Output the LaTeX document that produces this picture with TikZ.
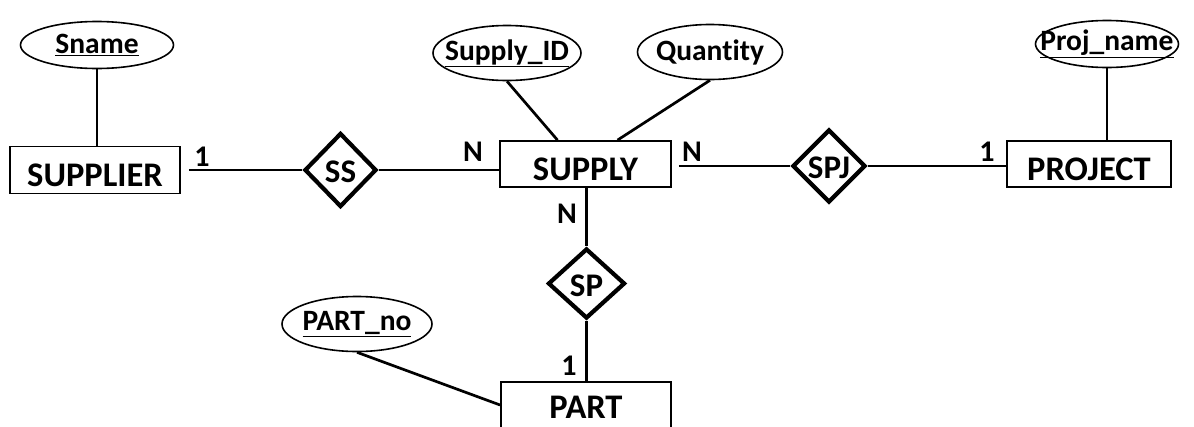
\documentclass[tikz,border=0pt]{standalone}
\usepackage{fontspec}
\setmainfont{Carlito}[Ligatures=NoCommon]
\usetikzlibrary{shapes.geometric}

% key attribute: underlined name
\newcommand{\keyattr}[1]{\underline{#1}}

\tikzset{
  entity/.style={draw, rectangle, line width=1.8pt, minimum width=#1,
                 minimum height=46pt, inner sep=0pt},
  enttext/.style={inner sep=0pt, yshift=-5pt,
                  font=\fontsize{34.5}{38}\selectfont\bfseries},
  relation/.style={draw, diamond, line width=4.2pt, inner sep=0pt},
  reltext/.style={inner sep=0pt, yshift=-2pt,
                  font=\fontsize{33}{36}\selectfont\bfseries},
  attribute/.style={draw, ellipse, line width=1.6pt, inner sep=0pt},
  attrtext/.style={inner sep=0pt,
                   font=\fontsize{29.5}{32}\selectfont\bfseries},
  card/.style={inner sep=0pt, font=\fontsize{30}{33}\selectfont\bfseries},
  conn/.style={line width=2.7pt}
}

\begin{document}
\begin{tikzpicture}[x=1pt, y=-1pt]
  \useasboundingbox (0,0) rectangle (1194,426);
  \fill[white] (0,0) rectangle (1194,426);
  \clip (0,0) rectangle (1194,426);

  % entities
  \node[entity=170pt, minimum height=47pt,
        label={[enttext]center:SUPPLIER}] (supplier) at (95,170) {};
  \node[entity=171pt, label={[enttext]center:SUPPLY}] (supply) at (585.5,164) {};
  \node[entity=164pt, label={[enttext]center:PROJECT}] (project) at (1089,164) {};
  \node[entity=170pt, label={[enttext, yshift=2.5pt]center:PART}] (part) at (586,405) {};

  % relationships
  \node[relation, minimum width=72pt, minimum height=74pt,
        label={[reltext]center:SS}] (ss) at (340.5,170) {};
  \node[relation, minimum width=73pt, minimum height=73pt,
        label={[reltext]center:SPJ}] (spj) at (829,166) {};
  \node[relation, minimum width=77pt, minimum height=70pt,
        label={[reltext]center:SP}] (sp) at (586.5,283.5) {};

  % attributes
  \node[attribute, minimum width=153pt, minimum height=47pt,
        label={[attrtext]center:\keyattr{Sname}}] (sname) at (97,45) {};
  \node[attribute, minimum width=148pt, minimum height=55pt,
        label={[attrtext]center:\keyattr{Supply\_ID}}] (supplyid) at (507,53) {};
  \node[attribute, minimum width=145pt, minimum height=55pt,
        label={[attrtext]center:Quantity}] (quantity) at (710,52) {};
  \node[attribute, minimum width=143pt, minimum height=47pt,
        label={[attrtext]center:\keyattr{Proj\_name}}] (projname) at (1107,44) {};
  \node[attribute, minimum width=150pt, minimum height=55pt,
        label={[attrtext]center:\keyattr{PART\_no}}] (partno) at (357,324) {};

  % attribute links
  \draw[conn] (sname.south) -- (sname.south |- supplier.north);
  \draw[conn] (supplyid.south) -- ([xshift=-28pt]supply.north);
  \draw[conn] (quantity.south) -- ([xshift=32pt]supply.north);
  \draw[conn] (projname.south) -- (projname.south |- project.north);
  \draw[conn] (partno.south) -- (part.west);

  % relationship links
  \draw[conn, shorten <=8pt] (supplier.east |- ss.west) -- (ss.west);
  \draw[conn] (ss.east) -- (ss.east -| supply.west);
  \draw[conn, shorten <=7pt] (supply.east |- spj.west) -- (spj.west);
  \draw[conn] (spj.east) -- (spj.east -| project.west);
  \draw[conn] (supply.south -| sp.north) -- (sp.north);
  \draw[conn] (sp.south) -- (sp.south |- part.north);

  % cardinalities
  \node[card] (c1) at (202,157) {1};
  \node[card] (c2) at (473,152) {N};
  \node[card] (c3) at (692,152) {N};
  \node[card] (c4) at (987,152) {1};
  \node[card] (c5) at (567,214) {N};
  \node[card] (c6) at (569,366) {1};
\end{tikzpicture}
\end{document}
